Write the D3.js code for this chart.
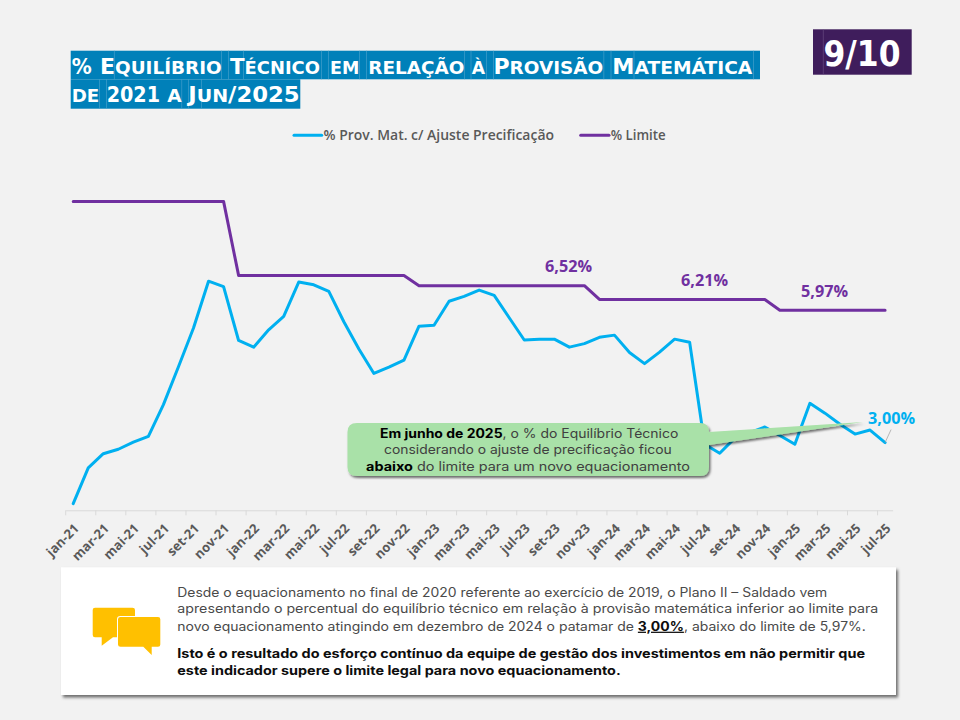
<html>
  <head>
    <meta charset="utf-8" />
    <title>% Equilíbrio Técnico em relação à Provisão Matemática</title>
    <script src="https://d3js.org/d3.v7.min.js"></script>
    <style>
      body { margin: 0; background: #f2f2f2; }
      svg { display: block; }
      text { font-family: "Inter", sans-serif; }
      .tick text, .legend text, .lbl { font-family: "Open Sans", sans-serif; }
      .head { font-family: "DejaVu Sans", sans-serif; }
    </style>
  </head>
  <body>
    <script>
      const months = [
        "jan-21","fev-21","mar-21","abr-21","mai-21","jun-21","jul-21","ago-21","set-21","out-21","nov-21","dez-21",
        "jan-22","fev-22","mar-22","abr-22","mai-22","jun-22","jul-22","ago-22","set-22","out-22","nov-22","dez-22",
        "jan-23","fev-23","mar-23","abr-23","mai-23","jun-23","jul-23","ago-23","set-23","out-23","nov-23","dez-23",
        "jan-24","fev-24","mar-24","abr-24","mai-24","jun-24","jul-24","ago-24","set-24","out-24","nov-24","dez-24",
        "jan-25","fev-25","mar-25","abr-25","mai-25","jun-25","jul-25"
      ];
      const provisao = [
        1.63,2.43,2.75,2.85,3.01,3.14,3.85,4.70,5.57,6.62,6.50,5.29,
        5.14,5.53,5.83,6.60,6.54,6.39,5.71,5.10,4.55,4.69,4.85,5.61,
        5.63,6.17,6.28,6.42,6.30,5.80,5.30,5.32,5.32,5.14,5.22,5.36,
        5.41,5.02,4.77,5.03,5.32,5.25,2.96,2.76,3.10,3.22,3.35,3.16,
        2.96,3.88,3.66,3.41,3.19,3.28,3.00
      ];
      const limite = [
        8.41,8.41,8.41,8.41,8.41,8.41,8.41,8.41,8.41,8.41,8.41,6.75,
        6.75,6.75,6.75,6.75,6.75,6.75,6.75,6.75,6.75,6.75,6.75,6.52,
        6.52,6.52,6.52,6.52,6.52,6.52,6.52,6.52,6.52,6.52,6.52,6.21,
        6.21,6.21,6.21,6.21,6.21,6.21,6.21,6.21,6.21,6.21,6.21,5.97,
        5.97,5.97,5.97,5.97,5.97,5.97,5.97
      ];
      const seriesNames = ["% Prov. Mat. c/ Ajuste Precificação", "% Limite"];
      const seriesColors = ["#00b0f0", "#7030a0"];

      const w = 960;
      const h = 720;
      const svg = d3.select("body").append("svg").attr("width", w).attr("height", h);
      svg.append("rect").attr("width", w).attr("height", h).attr("fill", "#f2f2f2");

      const defs = svg.append("defs");
      function shadow(id, dx, dy, blur, op) {
        defs.append("filter").attr("id", id)
          .attr("x", "-5%").attr("y", "-20%").attr("width", "112%").attr("height", "145%")
          .append("feDropShadow")
          .attr("dx", dx).attr("dy", dy).attr("stdDeviation", blur)
          .attr("flood-color", "#000").attr("flood-opacity", op);
      }
      shadow("panelShadow", 2, 2.5, 1.5, 0.55);
      shadow("calloutShadow", 1.5, 2, 1.3, 0.55);

      // title: each word has its own highlight piece, that is what makes the seams
      const titleWords = [
        ["%", 71.7, 20, 0], ["Equilíbrio", 100, 121.7, 0], ["Técnico", 230, 90, 0], ["em", 330, 29.3, 0],
        ["relação", 368.3, 96, 0], ["à", 471.7, 13.3, 0], ["Provisão", 493.5, 109.8, 0],
        ["Matemática", 612.3, 140, 0],
        ["de", 71.7, 27.6, 1], ["2021", 106.7, 53.3, 1], ["a", 167.3, 14.4, 1], ["Jun/2025", 188.3, 111.4, 1]
      ];
      const titleTop = [50.7, 79.3];
      const titleBottom = [79.3, 108.7];
      const titleEnd = [760, 300.3];
      const titleBase = [73.5, 102.4];
      [0, 1].forEach((l) => {
        svg.append("rect").attr("x", 70.7).attr("y", titleTop[l])
          .attr("width", titleEnd[l] - 70.7).attr("height", titleBottom[l] - titleTop[l])
          .attr("fill", "#0080b9");
      });
      const seams = [114.4, 221.5, 228.5, 243.5, 321.5, 328.5, 359.5, 366.5, 464.5, 471, 486.5, 493.5, 603.8, 611, 634, 753.5,
        99.5, 106.5, 181.7, 188.5, 201.5];
      seams.forEach((sx, i) => {
        const l = i < 16 ? 0 : 1;
        svg.append("line").attr("x1", sx).attr("x2", sx).attr("y1", titleTop[l]).attr("y2", titleBottom[l])
          .attr("stroke", "#4ea3cc").attr("stroke-width", 0.6);
      });
      // small caps by hand, one tspan per run of equal size
      titleWords.forEach(([word, x, len, l]) => {
        const t = svg.append("text").attr("class", "head").attr("x", x).attr("y", titleBase[l])
          .attr("textLength", len).attr("lengthAdjust", "spacingAndGlyphs")
          .attr("fill", "#fff").attr("font-weight", 700);
        const runs = word.match(/\p{Ll}+|[^\p{Ll}]+/gu);
        runs.forEach((run) => {
          const small = run !== run.toUpperCase();
          t.append("tspan").attr("font-size", small ? 18 : 21.5).text(run.toUpperCase());
        });
      });

      // page counter
      svg.append("rect").attr("x", 813).attr("y", 29.3).attr("width", 98.7).attr("height", 45.4).attr("fill", "#3f1d5c");
      svg.append("line").attr("x1", 823.3).attr("x2", 823.3).attr("y1", 29.3).attr("y2", 74.7).attr("stroke", "#6d5286").attr("stroke-width", 0.6);
      svg.append("text").attr("class", "head").attr("x", 823.5).attr("y", 65.5).attr("textLength", 77).attr("lengthAdjust", "spacingAndGlyphs")
        .attr("font-size", 36).attr("font-weight", 700).attr("fill", "#fff").text("9/10");

      // legend
      const legendX = [[294, 321.7, 323.5, 230.5], [580.7, 609, 610.7, 55]];
      const legend = svg.append("g").attr("class", "legend");
      seriesNames.forEach((name, i) => {
        legend.append("line").attr("x1", legendX[i][0]).attr("x2", legendX[i][1]).attr("y1", 135.3).attr("y2", 135.3)
          .attr("stroke", seriesColors[i]).attr("stroke-width", 3).attr("stroke-linecap", "round");
        legend.append("text").attr("x", legendX[i][2]).attr("y", 140)
          .attr("textLength", legendX[i][3]).attr("lengthAdjust", "spacingAndGlyphs")
          .attr("font-size", 13.5).attr("font-weight", 600).attr("fill", "#595959").text(name);
      });

      // scales
      const xScale = d3.scaleBand().domain(months).range([65.7, 892.6]);
      const yScale = d3.scaleLinear().domain([1.48, 8.5]).range([510.3, 197.4]);
      const cx = (i) => xScale(months[i]) + xScale.bandwidth() / 2;

      const xAxis = d3.axisBottom(xScale)
        .tickValues(months.filter((m, i) => i % 2 === 0))
        .tickSize(5).tickSizeOuter(0);
      const ax = svg.append("g").attr("transform", "translate(0,510.3)").call(xAxis);
      ax.select(".domain").attr("stroke", "#d9d9d9").attr("stroke-width", 1);
      ax.selectAll(".tick line").attr("stroke", "#d9d9d9")
        .attr("x1", -xScale.bandwidth() / 2).attr("x2", -xScale.bandwidth() / 2);
      ax.selectAll(".tick text")
        .attr("font-family", null).attr("font-size", 13).attr("font-weight", 700).attr("fill", "#595959")
        .attr("text-anchor", "end")
        .attr("x", 0).attr("y", 0).attr("dy", 0)
        .attr("transform", "translate(6.5,19) rotate(-45)");

      const line = d3.line().x((d, i) => cx(i)).y((d) => yScale(d));
      [provisao, limite].forEach((vals, i) => {
        svg.append("path").attr("d", line(vals)).attr("fill", "none")
          .attr("stroke", seriesColors[i]).attr("stroke-width", 3)
          .attr("stroke-linecap", "round").attr("stroke-linejoin", "round");
      });

      // data labels
      const limitLabels = ["6,52%", "6,21%", "5,97%"];
      const limitLabelPos = [[545, 271.5], [681, 285.5], [801, 296.5]];
      limitLabels.forEach((txt, i) => {
        svg.append("text").attr("class", "lbl").attr("x", limitLabelPos[i][0]).attr("y", limitLabelPos[i][1])
          .attr("textLength", 47).attr("lengthAdjust", "spacingAndGlyphs")
          .attr("font-size", 16).attr("font-weight", 700).attr("fill", "#7030a0").text(txt);
      });
      const last = provisao.length - 1;
      svg.append("line").attr("x1", cx(last)).attr("y1", yScale(provisao[last]))
        .attr("x2", cx(last) + 6).attr("y2", yScale(provisao[last]) - 13)
        .attr("stroke", "#a6a6a6").attr("stroke-width", 0.8);
      svg.append("text").attr("class", "lbl").attr("x", 868).attr("y", 424)
        .attr("textLength", 47).attr("lengthAdjust", "spacingAndGlyphs")
        .attr("font-size", 16).attr("font-weight", 700).attr("fill", "#00b0f0").text("3,00%");

      // callout
      svg.append("path").attr("fill", "#a9e1a8").attr("filter", "url(#calloutShadow)")
        .attr("d", "M357,423 H700 Q709,423 709,432 L863,422 L709,445 V467 Q709,476 700,476 H357 Q347.5,476 347.5,467 V432 Q347.5,423 357,423 Z");
      const calloutLines = [
        [[["Em junho de 2025", 1], [", o % do Equilíbrio Técnico", 0]], 380, 298.3, 438.3],
        [[["considerando o ajuste de precificação ficou", 0]], 384, 287.7, 454.3],
        [[["abaixo", 1], [" do limite para um novo equacionamento", 0]], 366, 324, 470.7]
      ];
      function textLine(parts, x, len, y, size, colorR, colorB) {
        const t = svg.append("text").attr("x", x).attr("y", y).attr("font-size", size)
          .attr("textLength", len).attr("lengthAdjust", "spacingAndGlyphs")
          .style("white-space", "pre");
        parts.forEach(([s, b, u]) => {
          t.append("tspan").attr("font-weight", b ? 700 : 400).attr("fill", b ? colorB : colorR)
            .attr("text-decoration", u ? "underline" : null).text(s);
        });
      }
      calloutLines.forEach(([parts, x, len, y]) => textLine(parts, x, len, y, 12.5, "#404040", "#000"));

      // bottom panel
      svg.append("rect").attr("x", 61).attr("y", 567.3).attr("width", 835).attr("height", 127.7)
        .attr("fill", "#fff").attr("filter", "url(#panelShadow)");
      const panelLines = [
        [[["Desde o equacionamento no final de 2020 referente ao exercício de 2019, o Plano II – Saldado vem", 0]], 650, 596.7],
        [[["apresentando o percentual do equilíbrio técnico em relação à provisão matemática inferior ao limite para", 0]], 701, 613.3],
        [[["novo equacionamento atingindo em dezembro de 2024 o patamar de ", 0], ["3,00%", 1, 1], [", abaixo do limite de 5,97%.", 0]], 688.5, 630.7],
        [[["Isto é o resultado do esforço contínuo da equipe de gestão dos investimentos em não permitir que", 1]], 687.7, 658.3],
        [[["este indicador supere o limite legal para novo equacionamento.", 1]], 443.4, 675]
      ];
      panelLines.forEach(([parts, len, y]) => textLine(parts, 177.3, len, y, 12.5, "#4a4a4a", "#0d0d0d"));

      // chat icon
      svg.append("path").attr("fill", "#ffc000")
        .attr("d", "M95,607.7 H132.5 Q135,607.7 135,610 V635 Q135,637.3 132.5,637.3 H113 L101.7,645.7 V637.3 H95 Q92.7,637.3 92.7,635 V610 Q92.7,607.7 95,607.7 Z");
      svg.append("path").attr("fill", "#ffc000").attr("stroke", "#fff").attr("stroke-width", 2).attr("paint-order", "stroke")
        .attr("d", "M120.5,617 H158 Q160.3,617 160.3,619.3 V644.4 Q160.3,646.7 158,646.7 H151.7 V655 L143.3,646.7 H120.5 Q118,646.7 118,644.4 V619.3 Q118,617 120.5,617 Z");
    </script>
  </body>
</html>
